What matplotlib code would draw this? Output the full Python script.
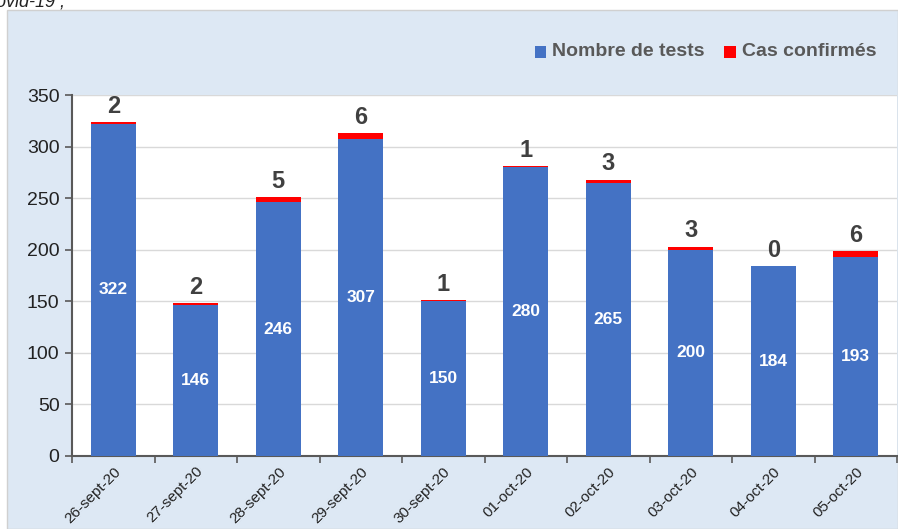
import matplotlib
matplotlib.use("Agg")
import matplotlib.pyplot as plt
from matplotlib.patches import Rectangle
import numpy as np

dates = ["26-sept-20", "27-sept-20", "28-sept-20", "29-sept-20", "30-sept-20",
         "01-oct-20", "02-oct-20", "03-oct-20", "04-oct-20", "05-oct-20"]
tests = [322, 146, 246, 307, 150, 280, 265, 200, 184, 193]
cas = [2, 2, 5, 6, 1, 1, 3, 3, 0, 6]

FONT = ["Liberation Sans", "DejaVu Sans"]
plt.rcParams['font.family'] = FONT

W, H = 898, 529
fig = plt.figure(figsize=(W/100, H/100), dpi=100, facecolor="white")
fig.patches.append(Rectangle((7/W, 0), (W-7)/W, (H-10)/H, transform=fig.transFigure,
                             facecolor="#dde8f4", edgecolor="#d0d0d0", lw=1, zorder=-10))
fig.text(-0.005, 1 - 2/H, "ovid-19 ;", style="italic", fontsize=13, color="#222222",
         ha="left", va="center")

ax = fig.add_axes([72/W, (H-456)/H, (897-72)/W, (456-95)/H])
ax.set_facecolor("white")
x = np.arange(len(dates))
blue = "#4472c4"
red = "#ff0000"
bw = 0.55
ax.bar(x, tests, width=bw, color=blue, zorder=3)
ax.bar(x, cas, width=bw, bottom=tests, color=red, zorder=3)

for i in range(len(dates)):
    ax.text(x[i], tests[i]/2, str(tests[i]), ha="center", va="center", color="white",
            fontsize=12.5, fontweight="bold", zorder=4)
    ax.text(x[i], tests[i] + cas[i] + 4, str(cas[i]), ha="center", va="bottom",
            color="#404040", fontsize=17, fontweight="bold", zorder=4)

ax.set_xlim(-0.5, len(dates) - 0.5)
ax.set_ylim(0, 350)
ax.set_yticks(range(0, 351, 50))
ax.yaxis.grid(True, color="#d9d9d9", lw=1, zorder=0)
ax.tick_params(axis="y", labelsize=14, colors="#222222", length=5, width=1.2,
               color="#595959", pad=4)
ax.set_xticks(x)
ax.set_xticklabels(dates, rotation=45, ha="right", rotation_mode="anchor", fontsize=11,
                   color="#222222")
ax.tick_params(axis="x", which="major", length=0, pad=6)
ax.set_xticks(np.arange(-0.5, len(dates), 1.0), minor=True)
ax.tick_params(axis="x", which="minor", length=5, width=1.2, color="#595959")
for s in ["top", "right"]:
    ax.spines[s].set_visible(False)
for s in ["left", "bottom"]:
    ax.spines[s].set_color("#595959")
    ax.spines[s].set_linewidth(1.5)

# legend
ly = 1 - 52/H
fig.patches.append(Rectangle((535/W, ly - 6/H), 11/W, 12/H, transform=fig.transFigure,
                             facecolor=blue, edgecolor="none"))
fig.text(552/W, ly, "Nombre de tests", fontsize=14, fontweight="bold", color="#595959",
         ha="left", va="center")
fig.patches.append(Rectangle((724/W, ly - 6/H), 12/W, 12/H, transform=fig.transFigure,
                             facecolor=red, edgecolor="none"))
fig.text(742/W, ly, "Cas confirmés", fontsize=14, fontweight="bold", color="#595959",
         ha="left", va="center")

fig.savefig("out.png", dpi=100)
